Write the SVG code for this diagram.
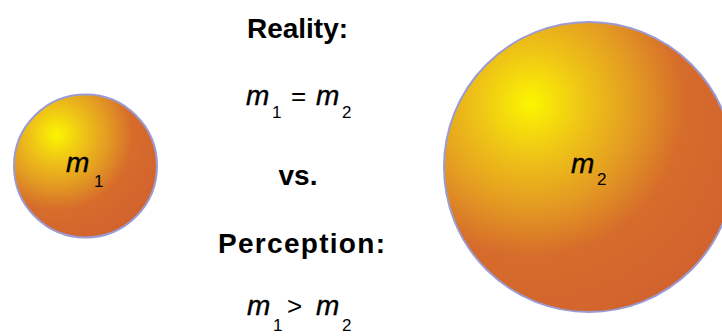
<svg xmlns="http://www.w3.org/2000/svg" width="722" height="336" viewBox="0 0 722 336">
<defs>
<radialGradient id="ball" cx="0.3" cy="0.28" r="0.8" fx="0.3" fy="0.28">
<stop offset="0" stop-color="#fbf600"/>
<stop offset="0.22" stop-color="#efc616"/>
<stop offset="0.45" stop-color="#e39a22"/>
<stop offset="0.66" stop-color="#d66c2b"/>
<stop offset="1" stop-color="#d2622e"/>
</radialGradient>
</defs>
<style>
.ball{fill:url(#ball);stroke:#9b9bd2;stroke-width:2}
.head{font-family:"Liberation Sans",Arial,sans-serif;font-weight:bold;font-size:28px;fill:#000;text-anchor:middle}
.m{font-family:"Liberation Sans",Arial,sans-serif;font-style:italic;font-size:28px;fill:#000;stroke:#000;stroke-width:0.4}
.sub{font-family:"Liberation Sans",Arial,sans-serif;font-size:17px;fill:#000}
.op{font-family:"Liberation Sans",Arial,sans-serif;font-size:26px;fill:#000}
</style>
<rect width="722" height="336" fill="#fff"/>
<g id="mass1">
<circle class="ball" cx="85.5" cy="166" r="71.5"/>
<text class="m" x="66" y="172">m</text>
<text class="sub" x="94" y="187">1</text>
</g>
<g id="mass2">
<circle class="ball" cx="589" cy="167" r="145"/>
<text class="m" x="571" y="173">m</text>
<text class="sub" x="597" y="185">2</text>
</g>
<g id="reality">
<text class="head" x="297.5" y="38">Reality:</text>
<text class="m" x="246" y="105">m</text>
<text class="sub" x="272" y="118">1</text>
<text class="op" x="291" y="105">=</text>
<text class="m" x="316" y="105">m</text>
<text class="sub" x="342" y="118">2</text>
</g>
<g id="vs">
<text class="head" x="298" y="185">vs.</text>
</g>
<g id="perception">
<text class="head" x="301.5" y="253" textLength="167" lengthAdjust="spacing">Perception:</text>
<text class="m" x="247" y="315">m</text>
<text class="sub" x="273" y="331">1</text>
<text class="op" x="287" y="315">&gt;</text>
<text class="m" x="316" y="315">m</text>
<text class="sub" x="342" y="331">2</text>
</g>
</svg>
